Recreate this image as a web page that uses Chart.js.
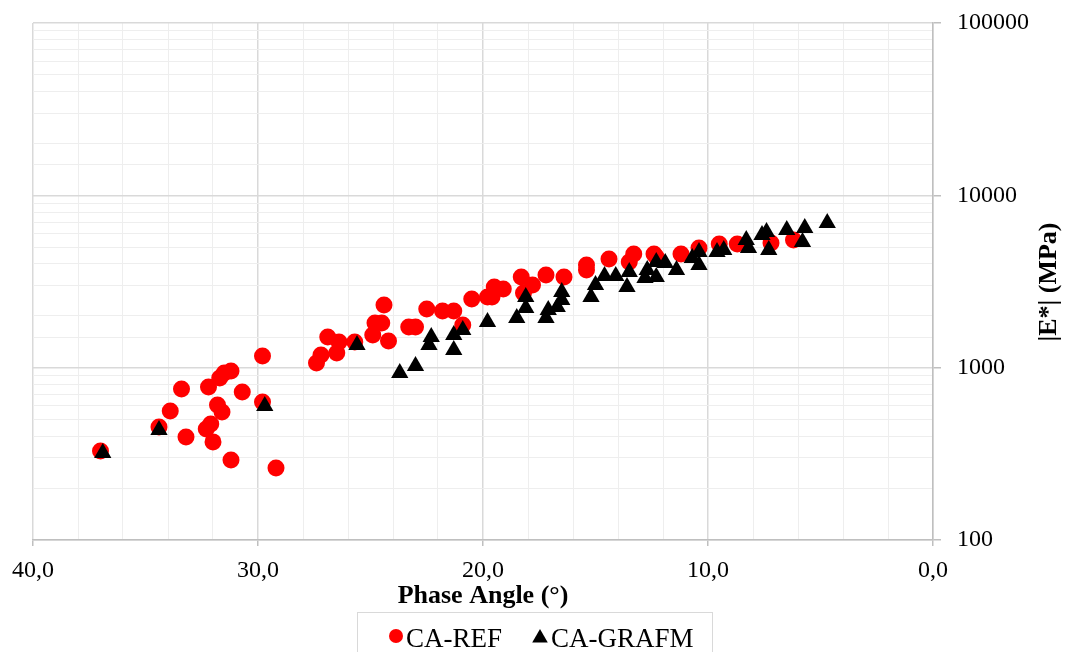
<!DOCTYPE html>
<html>
<head>
<meta charset="utf-8">
<script src="https://cdn.jsdelivr.net/npm/chart.js@4/dist/chart.umd.min.js"></script>
<style>
html, body { margin: 0; padding: 0; background: #fff; }
#wrap { width: 1065px; height: 652px; position: relative; }
</style>
</head>
<body>
<div id="wrap"><canvas id="chart" width="1065" height="652"></canvas></div>
<script>
// Data (phase angle in degrees, |E*| in MPa)
var refAngle = [37.0, 34.4, 33.9, 33.4, 33.2, 32.2, 32.1, 32.3, 32.0, 31.8, 31.7, 31.5, 31.6, 31.2, 31.2, 30.7,
    29.8, 29.8, 29.2, 27.4, 27.2, 26.9, 26.4, 26.5, 25.7, 24.4, 24.8, 24.5, 24.9, 24.2, 23.3, 23.0,
    22.5, 21.8, 21.3, 20.9, 20.5, 19.8, 19.6, 19.5, 19.1, 18.3, 18.2, 17.8, 17.2, 16.4, 15.4, 15.4,
    14.4, 13.5, 13.3, 12.4, 12.3, 11.2, 10.4, 9.5, 8.7, 7.2, 6.2];
var refModulus = [328, 453, 561, 752, 396, 773, 471, 441, 371, 607, 871, 931, 553, 957, 291, 722,
    1169, 632, 262, 1065, 1186, 1507, 1409, 1216, 1409, 2312, 1815, 1815, 1549, 1429, 1722, 1722,
    2188, 2132, 2132, 1771, 2500, 2570, 2570, 2939, 2862, 3360, 2710, 3018, 3451, 3360, 3942, 3689,
    4274, 4106, 4566, 4566, 4389, 4566, 4947, 5220, 5220, 5290, 5508];

var grafmAngle = [36.9, 34.4, 29.7, 25.6, 23.7, 23.0, 22.4, 22.3, 21.3, 21.3, 20.9, 19.8, 18.5, 18.1, 18.1, 17.2,
    17.1, 16.7, 16.5, 16.5, 15.2, 15.0, 14.6, 14.1, 13.6, 13.5, 12.8, 12.7, 12.3, 12.3, 11.9, 11.4,
    10.7, 10.4, 10.4, 9.6, 9.3, 8.3, 8.2, 7.6, 7.4, 7.3, 6.5, 5.8, 5.7, 4.7];
var grafmModulus = [320, 435, 599, 1354, 931, 1023, 1354, 1507, 1267, 1549, 1654, 1841, 1942, 2219, 2570, 1942,
    2161, 2249, 2471, 2748, 2570, 3018, 3404, 3404, 2939, 3590, 3313, 3689, 3360, 4106, 4049, 3689,
    4329, 3942, 4689, 4689, 4820, 5508, 4947, 5890, 6124, 4820, 6291, 5358, 6460, 6910];

var seriesNames = ['CA-REF', 'CA-GRAFM'];
var xTickLabels = [40, 30, 20, 10, 0];
var yTickLabels = [100, 1000, 10000, 100000];
var xTitle = 'Phase Angle (°)';
var yTitle = '|E*| (MPa)';

// Utils
var toPoints = function(xs, ys){
    var pts = [];
    for(var i = 0; i < xs.length; i++){
        pts.push({x: xs[i], y: ys[i]});
    }
    return pts;
}

var isMajorX = function(v){ return xTickLabels.indexOf(v) >= 0; }
var isMajorY = function(v){ return yTickLabels.indexOf(v) >= 0; }

var serif = '"Liberation Serif", "Times New Roman", serif';

// Y title and boxed legend
var extras = {
    id: 'extras',
    afterDraw: function(chart){
        var ctx = chart.ctx;
        ctx.save();
        ctx.translate(1049, 282);
        ctx.rotate(-Math.PI / 2);
        ctx.font = 'bold 26px ' + serif;
        ctx.fillStyle = '#000';
        ctx.textAlign = 'center';
        ctx.textBaseline = 'middle';
        ctx.fillText(yTitle, 0, 0);
        ctx.restore();

        // legend
        ctx.save();
        ctx.strokeStyle = '#d9d9d9';
        ctx.lineWidth = 1;
        ctx.strokeRect(357.5, 612.5, 355, 60);
        var items = [
            {x: 396, y: 636, r: 7, text: 406},
            {x: 540, y: 638, r: 9, text: 551}
        ];
        ctx.font = '27px ' + serif;
        ctx.textAlign = 'left';
        ctx.textBaseline = 'alphabetic';
        chart.data.datasets.forEach(function(ds, i){
            var it = items[i];
            ctx.fillStyle = ds.backgroundColor;
            Chart.helpers.drawPoint(ctx, {pointStyle: ds.pointStyle, radius: it.r, rotation: 0, borderWidth: 0}, it.x, it.y);
            ctx.fillStyle = '#000';
            ctx.fillText(ds.label, it.text, 647);
        });
        ctx.restore();
    }
};

var chart = new Chart(document.getElementById('chart'), {
    type: 'scatter',
    data: {
        datasets: [
            {
                label: seriesNames[0],
                data: toPoints(refAngle, refModulus),
                pointStyle: 'circle',
                pointRadius: 8.5,
                borderWidth: 0,
                backgroundColor: '#ff0000',
                borderColor: '#ff0000',
                order: 2
            },
            {
                label: seriesNames[1],
                data: toPoints(grafmAngle, grafmModulus),
                pointStyle: 'triangle',
                pointRadius: 10,
                borderWidth: 0,
                backgroundColor: '#000000',
                borderColor: '#000000',
                order: 1
            }
        ]
    },
    options: {
        responsive: false,
        animation: false,
        layout: { padding: {left: 33, top: 23, right: 0, bottom: 40}, autoPadding: false },
        plugins: {
            legend: { display: false },
            tooltip: { enabled: false }
        },
        scales: {
            x: {
                type: 'linear',
                min: 0,
                max: 40,
                reverse: true,
                afterFit: function(s){ s.height = 72; s.paddingLeft = 0; s.paddingRight = 0; },
                ticks: {
                    stepSize: 2,
                    autoSkip: false,
                    maxRotation: 0,
                    padding: 10,
                    color: '#000',
                    font: {family: serif, size: 24},
                    callback: function(v){ return isMajorX(v) ? v.toFixed(1).replace('.', ',') : ''; }
                },
                grid: {
                    color: function(c){ return c.tick && isMajorX(c.tick.value) ? '#d9d9d9' : '#eeeeee'; },
                    lineWidth: function(c){ return c.tick && isMajorX(c.tick.value) ? 1.5 : 1; },
                    tickColor: function(c){ return c.tick && isMajorX(c.tick.value) ? '#bfbfbf' : 'rgba(0,0,0,0)'; },
                    tickLength: 6
                },
                border: { color: '#bfbfbf', width: 1.5 },
                title: {
                    display: true,
                    text: xTitle,
                    color: '#000',
                    font: {family: serif, size: 26, weight: 'bold'},
                    padding: {top: 0, bottom: 0}
                }
            },
            y: {
                type: 'logarithmic',
                position: 'right',
                min: 100,
                max: 100000,
                afterFit: function(s){ s.width = 132; s.paddingTop = 0; s.paddingBottom = 0; },
                ticks: {
                    autoSkip: false,
                    padding: 16,
                    color: '#000',
                    font: {family: serif, size: 24},
                    callback: function(v){ return isMajorY(v) ? String(v) : ''; }
                },
                grid: {
                    color: function(c){ return c.tick && isMajorY(c.tick.value) ? '#d9d9d9' : '#eeeeee'; },
                    lineWidth: function(c){ return c.tick && isMajorY(c.tick.value) ? 1.5 : 1; },
                    tickColor: function(c){ return c.tick && isMajorY(c.tick.value) ? '#bfbfbf' : 'rgba(0,0,0,0)'; },
                    tickLength: 8
                },
                border: { color: '#bfbfbf', width: 1.5 }
            }
        }
    },
    plugins: [extras]
});
</script>
</body>
</html>
